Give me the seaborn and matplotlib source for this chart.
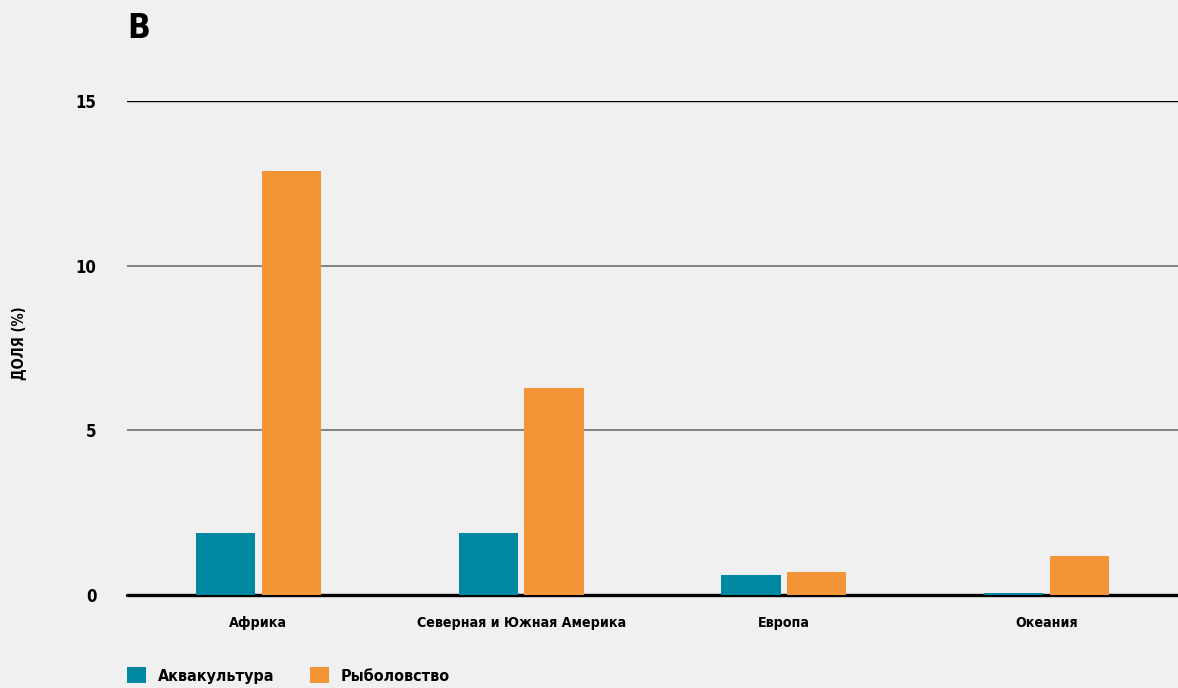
import matplotlib
matplotlib.use("Agg")
import matplotlib.pyplot as plt
import seaborn as sns
import pandas as pd
from matplotlib.patches import Patch

regions = ["Африка", "Северная и Южная Америка", "Европа", "Океания"]
aquaculture = [1.88, 1.88, 0.61, 0.06]
fishing = [12.88, 6.29, 0.70, 1.18]
series_names = ["Аквакультура", "Рыболовство"]
colors = ["#0088a3", "#f39536"]
yticks = [0, 5, 10, 15]

df = pd.DataFrame({
    "region": regions * 2,
    "sector": [series_names[0]] * len(regions) + [series_names[1]] * len(regions),
    "value": aquaculture + fishing,
})

sns.set_theme(style="white")
plt.rcParams["font.family"] = ["DejaVu Sans"]
plt.rcParams["font.stretch"] = "condensed"
plt.rcParams["font.weight"] = "bold"
plt.rcParams["text.color"] = "black"
plt.rcParams["xtick.color"] = "black"
plt.rcParams["ytick.color"] = "black"

bg = "#f0f0f0"
fig = plt.figure(figsize=(11.78, 6.88), dpi=100, facecolor=bg)
ax = fig.add_axes([127 / 1178, 1 - 595 / 688, 1 - 127 / 1178, (595 - 101) / 688])
ax.set_facecolor(bg)

sns.barplot(data=df, x="region", y="value", hue="sector", palette=colors,
            width=0.5, gap=0.1, ax=ax, legend=False, saturation=1,
            linewidth=0, edgecolor="none", zorder=3)

ax.set_ylim(0, 15)
ax.set_xlim(-0.5, len(regions) - 0.5)
ax.set_yticks(yticks)
ax.set_yticklabels([str(t) for t in yticks], fontsize=12, fontweight="bold",
                   fontstretch="condensed")
ax.tick_params(axis="y", length=0, pad=22)
ax.tick_params(axis="x", length=0, pad=15)
for lbl in ax.get_xticklabels():
    lbl.set_fontsize(10.2)
    lbl.set_fontweight("bold")
    lbl.set_fontstretch("condensed")
for s in ax.spines.values():
    s.set_visible(False)
for t in yticks[1:-1]:
    ax.axhline(t, color="#666666", lw=1.1, zorder=1)
ax.axhline(yticks[-1], color="black", lw=1.0, zorder=1)
ax.axhline(0, color="black", lw=2.4, zorder=2, clip_on=False)
ax.set_xlabel("")
ax.set_ylabel("")

fig.text(20 / 1178, 1 - 343 / 688, "ДОЛЯ (%)", rotation=90, ha="center", va="center",
         fontsize=10.5, fontweight="bold", fontstretch="condensed")
fig.text(127 / 1178, 1 - 28 / 688, "B", ha="left", va="center",
         fontsize=24, fontweight="bold", fontstretch="condensed")

handles = [Patch(facecolor=c, edgecolor="none") for c in colors]
fig.legend(handles, series_names, loc="upper left", ncol=2, frameon=False,
           bbox_to_anchor=(127 / 1178, 1 - 667 / 688), borderpad=0, borderaxespad=0,
           handlelength=1.2, handleheight=1.2, columnspacing=2.2, handletextpad=0.75,
           prop={"size": 11.5, "weight": "bold", "stretch": "condensed"})

fig.savefig("out.png", dpi=100, facecolor=bg)
